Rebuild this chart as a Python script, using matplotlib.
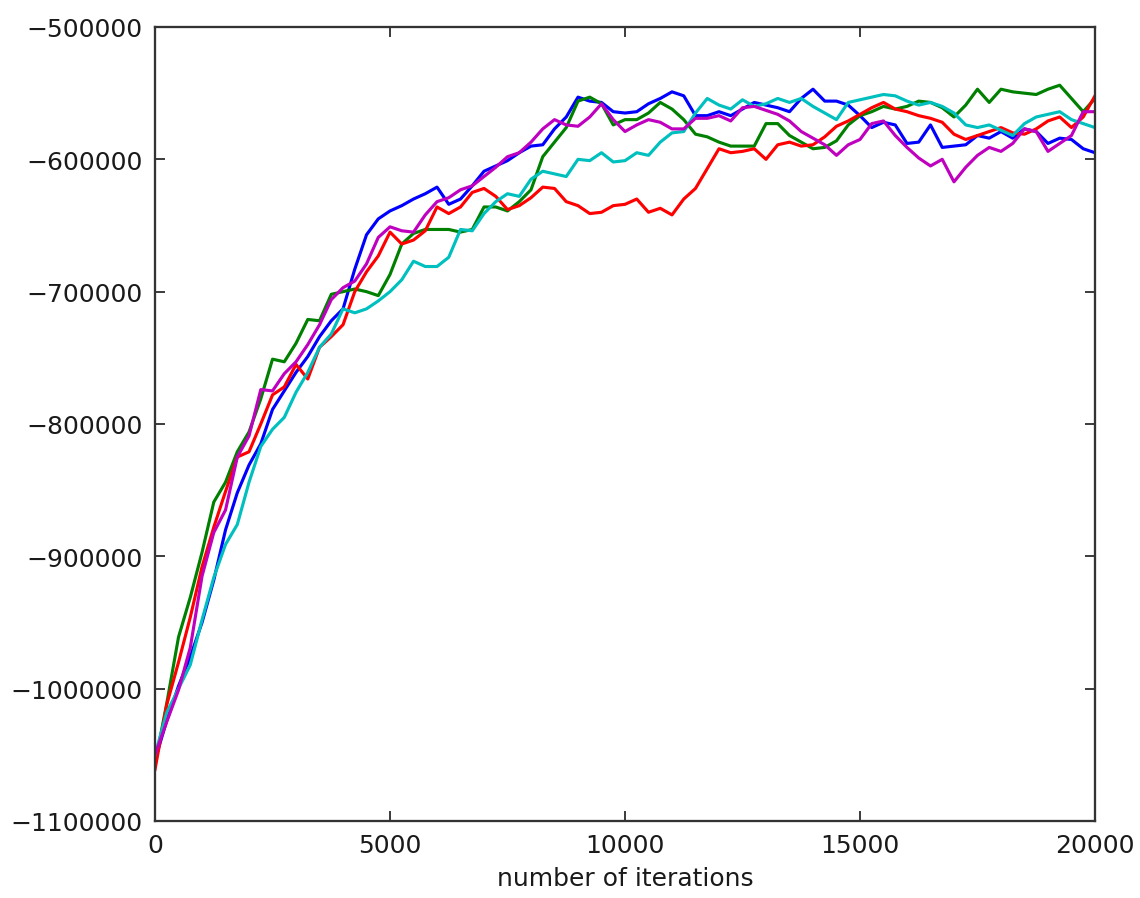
import numpy as np
import matplotlib
matplotlib.use("Agg")
import matplotlib.pyplot as plt

# iteration at which each value was recorded
iterations = np.arange(0, 20001, 250)

# log-likelihood of five chains, in thousands
chain_blue = [
    -1054, -1024, -998, -976, -950, -918, -880, -852, -831, -815,
    -789, -775, -761, -749, -734, -722, -713, -683, -657, -645,
    -639, -635, -630, -626, -621, -634, -630, -620, -609, -605,
    -601, -595, -590, -589, -577, -568, -553, -556, -557, -564,
    -565, -564, -558, -554, -549, -552, -567, -567, -564, -567,
    -562, -557, -559, -561, -564, -554, -547, -556, -556, -559,
    -567, -576, -572, -574, -588, -587, -574, -591, -590, -589,
    -582, -584, -579, -584, -577, -579, -588, -584, -585, -592,
    -595,
]
chain_green = [
    -1057, -1011, -961, -931, -897, -859, -844, -821, -806, -781,
    -751, -753, -739, -721, -722, -702, -700, -698, -700, -703,
    -687, -664, -656, -653, -653, -653, -655, -653, -636, -636,
    -639, -632, -623, -598, -587, -576, -556, -553, -558, -574,
    -570, -570, -565, -557, -562, -570, -581, -583, -587, -590,
    -590, -590, -573, -573, -582, -587, -592, -591, -586, -574,
    -567, -564, -560, -562, -560, -556, -557, -561, -568, -559,
    -547, -557, -547, -549, -550, -551, -547, -544, -554, -564,
    -554,
]
chain_red = [
    -1061, -1012, -980, -946, -908, -878, -851, -825, -821, -800,
    -778, -772, -755, -766, -742, -734, -725, -700, -685, -673,
    -655, -664, -661, -654, -636, -641, -636, -625, -622, -628,
    -638, -635, -629, -621, -622, -632, -635, -641, -640, -635,
    -634, -630, -640, -637, -642, -630, -622, -607, -592, -595,
    -594, -592, -600, -589, -587, -590, -589, -583, -575, -571,
    -566, -561, -557, -562, -564, -567, -569, -572, -581, -585,
    -582, -579, -576, -580, -581, -577, -571, -568, -576, -568,
    -552,
]
chain_cyan = [
    -1050, -1018, -1000, -982, -948, -916, -891, -876, -844, -817,
    -804, -795, -776, -761, -742, -732, -713, -716, -713, -707,
    -700, -691, -677, -681, -681, -674, -653, -654, -641, -632,
    -626, -628, -615, -609, -611, -613, -600, -601, -595, -602,
    -601, -595, -597, -587, -580, -579, -565, -554, -559, -562,
    -555, -560, -558, -554, -557, -554, -560, -565, -570, -557,
    -555, -553, -551, -552, -556, -559, -557, -560, -565, -574,
    -576, -574, -578, -582, -573, -568, -566, -564, -570, -573,
    -576,
]
chain_magenta = [
    -1050, -1025, -1001, -969, -915, -882, -865, -825, -809, -774,
    -775, -762, -753, -740, -725, -706, -697, -692, -679, -659,
    -651, -654, -655, -642, -632, -629, -623, -620, -613, -606,
    -598, -595, -587, -577, -570, -574, -575, -568, -558, -570,
    -579, -574, -570, -572, -577, -577, -569, -569, -567, -571,
    -561, -560, -563, -566, -571, -579, -584, -589, -597, -589,
    -585, -573, -571, -582, -591, -599, -605, -600, -617, -606,
    -597, -591, -594, -588, -577, -579, -594, -588, -582, -564,
    -564,
]

chains = [chain_blue, chain_green, chain_red, chain_cyan, chain_magenta]
colors = ['#0000ff', '#008000', '#ff0000', '#00bfbf', '#bf00bf']

fig = plt.figure(figsize=(7.6, 5.993), dpi=150)
ax = fig.add_axes([0.136, 0.0857, 0.8245, 0.8832])

for values, color in zip(chains, colors):
    ax.plot(iterations, np.array(values) * 1000, color=color, linewidth=1.5)

ax.set_xlim(0, 20000)
ax.set_ylim(-1100000, -500000)
ax.set_xticks([0, 5000, 10000, 15000, 20000])
ax.set_yticks(np.arange(-1100000, -499999, 100000))
ax.ticklabel_format(style='plain', useOffset=False)

ax.tick_params(direction='in', length=5, width=0.8, top=True, right=True,
               labelsize=12, colors='#1a1a1a', pad=6)
for spine in ax.spines.values():
    spine.set_linewidth(1.1)
    spine.set_color('#333333')

ax.set_xlabel('number of iterations', fontsize=12, color='#1a1a1a', labelpad=4)

fig.savefig('out.png', dpi=150)
